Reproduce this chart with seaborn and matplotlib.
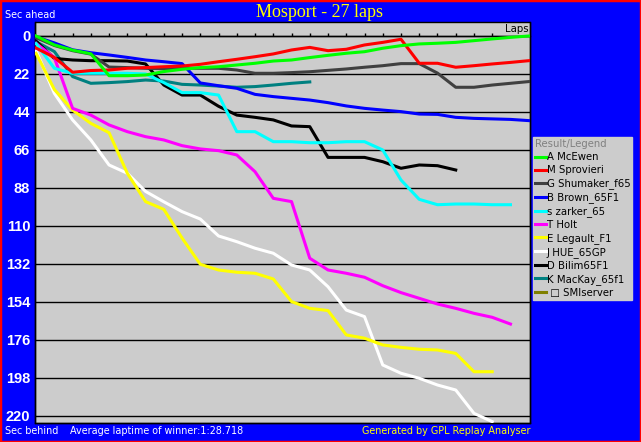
import pandas as pd
import matplotlib
matplotlib.use("Agg")
import matplotlib.pyplot as plt
from matplotlib.lines import Line2D
from matplotlib.patches import Rectangle
import seaborn as sns

# seconds behind the winner's average pace, one value per lap (lap 0 .. last lap driven)
mcewen = [0, 5.2, 8.2, 10.3, 23, 23, 22.6, 20.6, 19.3, 18.3, 17.8, 16.8, 15.8, 14.5,
          13.9, 12.5, 11.2, 10, 9.1, 7.1, 5.6, 4.6, 4.2, 3.7, 2.7, 1.7, 0.8, 0]
sprovieri = [7, 12.4, 21, 20, 19.7, 18.7, 18.3, 17.8, 17.4, 16.4, 14.9, 13.5, 12, 10.4,
             8.1, 6.6, 8.5, 7.7, 5.2, 3.7, 1.9, 15.8, 15.8, 18.1, 17.2, 16.2, 15.3, 14.3]
shumaker = [1, 5.5, 8.5, 10.5, 18, 18.3, 18.7, 19, 18.7, 18.7, 18.7, 19.7, 21.6, 21.6,
            21.2, 20.7, 19.9, 19.1, 18.1, 17.2, 16, 16, 21.5, 29.7, 29.7, 28.4, 27.4, 26.4]
brown = [0.5, 4, 8, 9.7, 11, 12.4, 13.9, 14.9, 16, 27.2, 28.8, 30.3, 33.8, 35.1,
         36.1, 37.1, 38.6, 40.5, 41.9, 42.9, 43.8, 45.2, 45.4, 47.1, 47.7, 48, 48.3, 49]
zarker = [4.4, 18.7, 21.6, 21.6, 21.6, 21.6, 22, 27, 32.8, 32.8, 34.2, 55.4, 55.4, 61.2,
          61.2, 61.8, 61.8, 61.2, 61.2, 66, 83.4, 94.6, 97.7, 97.3, 97.3, 97.7, 97.7]
holt = [4.3, 12.5, 41.9, 45.8, 51.5, 55.4, 58.3, 60.2, 63.5, 65.4, 66.4, 68.9, 78.6, 94,
        95.9, 128.7, 135.5, 137.4, 139.7, 144.6, 148.6, 151.9, 155.2, 157.7, 160.6, 162.9, 166.8]
legault = [10, 31, 42.9, 50.6, 56, 79.5, 95.9, 100.4, 117, 132.2, 135.5, 136.8, 137.4,
           140.7, 153.8, 157.7, 159, 173.1, 175, 178.9, 180.3, 181.4, 181.8, 183.8, 194.4, 194.4]
hue = [8.5, 33.2, 48.6, 60.2, 74.7, 79.5, 90, 96, 101.7, 106, 115.8, 119.1, 122.9,
       125.8, 132.6, 135.5, 145.2, 158.7, 162.5, 190.5, 195.3, 198.2, 202.1, 205, 218.5, 223.3]
bilim = [3, 13, 13.9, 14.3, 14.3, 14.5, 16.2, 28.4, 34.2, 34.2, 40.7, 45.8, 47.1, 48.6,
         52.1, 52.5, 70.3, 70.3, 70.3, 72.8, 76.6, 74.7, 75.1, 77.6]
mackay = [3.3, 9, 23.5, 27.4, 27, 26.4, 25.5, 26.1, 28, 28.4, 29, 29.7, 29.3, 28.4, 27.4, 26.6]
smiserver = []

drivers = ["A McEwen", "M Sprovieri", "G Shumaker_f65", "B Brown_65F1", "s zarker_65",
           "T Holt", "E Legault_F1", "J HUE_65GP", "D Bilim65F1", "K MacKay_65f1",
           " \u25a1 SMIserver"]
gaps = [mcewen, sprovieri, shumaker, brown, zarker, holt, legault, hue, bilim, mackay, smiserver]
colors = ["#00FF00", "#FF0000", "#404040", "#0000FF", "#00FFFF", "#FF00FF",
          "#FFFF00", "#FFFFFF", "#000000", "#008080", "#808000"]
yticks = list(range(0, 221, 22))

rows = []
for name, vals in zip(drivers, gaps):
    for lap, v in enumerate(vals):
        rows.append({"driver": name, "lap": lap, "gap": v})
df = pd.DataFrame(rows)

W, H = 641, 442
def fx(x):
    return x / W
def fy(y):
    return 1 - y / H

fig = plt.figure(figsize=(W / 100, H / 100), dpi=100, facecolor="#0000FF")
ax = fig.add_axes([fx(35), fy(423), 495 / W, 401 / H])
ax.set_facecolor("#CCCCCC")

# first driver of the legend sits on top, so draw them in reverse
drawn = [d for d in drivers if len(gaps[drivers.index(d)]) > 0][::-1]
sns.lineplot(data=df, x="lap", y="gap", hue="driver", hue_order=drawn,
             palette=dict(zip(drivers, colors)), linewidth=2.2, legend=False,
             ax=ax, zorder=3)

ax.set_xlim(-0.06, 27.07)
ax.set_ylim(224.1, -8.1)
ax.set_xlabel("")
ax.set_ylabel("")

ax.set_yticks(yticks)
ax.yaxis.grid(True, color="black", linewidth=1)
ax.set_axisbelow(True)
ax.tick_params(axis="y", length=0, pad=3.5, labelcolor="white")
for t in ax.get_yticklabels():
    t.set_fontfamily("Liberation Sans")
    t.set_fontweight("bold")
    t.set_fontsize(10.5)

# lap ticks sit on the zero line
ax.spines["top"].set_position(("data", 0))
ax.xaxis.set_ticks_position("top")
ax.set_xticks(range(1, 26))
ax.tick_params(axis="x", direction="out", length=2.3, width=1, color="black",
               labeltop=False, labelbottom=False)
for s in ["left", "right", "bottom", "top"]:
    ax.spines[s].set_color("black")
    ax.spines[s].set_linewidth(1)
ax.patch.set_edgecolor("black")
ax.patch.set_linewidth(1)

fig.text(fx(320), fy(12.5), "Mosport - 27 laps", color="#FFFF00",
         family="Liberation Serif", fontsize=13, ha="center", va="center")
fig.text(fx(5), fy(15.5), "Sec ahead", color="white", fontsize=6.9, va="center")
fig.text(fx(529), fy(29), "Laps", color="black", fontsize=7.3, ha="right", va="center")
fig.text(fx(5), fy(431), "Sec behind", color="white", fontsize=6.9, va="center")
fig.text(fx(70), fy(431), "Average laptime of winner:1:28.718", color="white",
         fontsize=6.9, va="center")
fig.text(fx(531), fy(431), "Generated by GPL Replay Analyser", color="#FFFF00",
         fontsize=6.9, ha="right", va="center")

handles = [Line2D([], [], color=c, linewidth=2.2) for c in colors]
leg = fig.legend(handles, drivers, loc="upper left", bbox_to_anchor=(fx(533), fy(137)),
                 frameon=True, facecolor="#CCCCCC", edgecolor="#CCCCCC", framealpha=1,
                 fancybox=False, title="Result/Legend", alignment="left",
                 fontsize=7.3, title_fontsize=7.3, handlelength=1.05, handletextpad=0.1,
                 labelspacing=0.3, borderpad=0.2, borderaxespad=0)
leg.get_title().set_color("#808080")

fig.patches.append(Rectangle((0, 0), 1, 1, transform=fig.transFigure, fill=False,
                             edgecolor="#FF0000", linewidth=2.5))

fig.savefig("out.png", dpi=100, facecolor=fig.get_facecolor())
